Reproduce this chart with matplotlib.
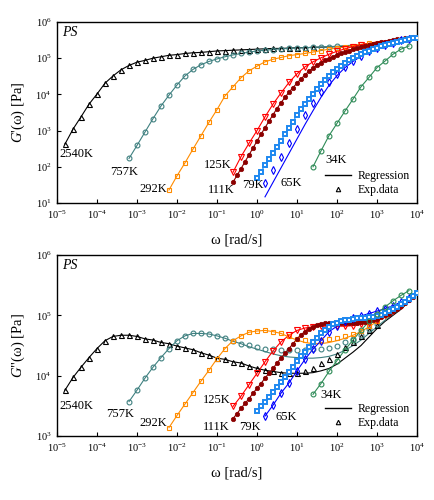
import numpy as np
import matplotlib
matplotlib.use("Agg")
import matplotlib.pyplot as plt
from matplotlib.lines import Line2D
from matplotlib.ticker import LogLocator, NullLocator

plt.rcParams['font.family'] = ['Liberation Serif', 'DejaVu Serif']
plt.rcParams['mathtext.fontset'] = 'custom'
plt.rcParams['mathtext.rm'] = 'Liberation Serif'
plt.rcParams['mathtext.it'] = 'Liberation Serif:italic'

# all values below are log10: omega in rad/s, G' and G'' in Pa

# 2540K
w2540t = [-4.8, -4.6, -4.4, -4.2, -4.0, -3.8, -3.6, -3.4, -3.2, -3.0, -2.8, -2.6, -2.4, -2.2, -2.0, -1.8,
          -1.6, -1.4, -1.2, -1.0, -0.8, -0.6, -0.4, -0.2, 0.0, 0.2, 0.4, 0.6, 0.8, 1.0, 1.2, 1.4]
gp2540 = [2.63, 3.04, 3.38, 3.73, 4.01, 4.31, 4.51, 4.68, 4.80, 4.89, 4.94, 5.00, 5.04, 5.08, 5.10, 5.13,
          5.15, 5.16, 5.18, 5.20, 5.21, 5.22, 5.23, 5.24, 5.25, 5.26, 5.27, 5.27, 5.28, 5.29, 5.29, 5.30]
w2540b = w2540t + [1.6, 1.8, 2.0, 2.2, 2.4, 2.6, 2.8, 3.0]
gpp2540 = [3.76, 3.97, 4.14, 4.30, 4.45, 4.58, 4.65, 4.67, 4.67, 4.65, 4.61, 4.59, 4.55, 4.53, 4.49, 4.46,
           4.43, 4.38, 4.34, 4.29, 4.27, 4.23, 4.21, 4.16, 4.12, 4.09, 4.07, 4.05, 4.04, 4.04, 4.08, 4.13,
           4.21, 4.28, 4.36, 4.48, 4.56, 4.66, 4.75, 4.84]
fit2540t_w = w2540t + [1.8, 2.2, 2.6, 3.0, 3.4, 3.7, 4.0]
fit2540t_g = gp2540 + [5.31, 5.33, 5.36, 5.40, 5.46, 5.51, 5.57]
fit2540b_w = w2540b[:30] + [1.2, 1.4, 1.6, 1.8, 2.0, 2.2, 2.4, 2.6, 2.8, 3.0, 3.2, 3.4, 3.6, 3.8, 4.0]
fit2540b_g = gpp2540[:30] + [4.04, 4.05, 4.08, 4.12, 4.19, 4.29, 4.39, 4.50, 4.64, 4.78, 4.90, 5.00, 5.10,
                             5.23, 5.38]

# 757K
w757t = [-3.2, -3.0, -2.8, -2.6, -2.4, -2.2, -2.0, -1.8, -1.6, -1.4, -1.2, -1.0, -0.8, -0.6, -0.4, -0.2,
         0.0, 0.2, 0.4, 0.6, 0.8, 1.0, 1.2, 1.4, 1.6, 1.8, 2.0]
gp757 = [2.23, 2.59, 2.96, 3.33, 3.68, 3.98, 4.26, 4.51, 4.69, 4.82, 4.91, 4.98, 5.04, 5.09, 5.13, 5.17,
         5.20, 5.22, 5.24, 5.26, 5.27, 5.28, 5.29, 5.30, 5.31, 5.32, 5.33]
w757b = w757t + [2.2, 2.4, 2.6, 2.8, 3.0]
gpp757 = [3.57, 3.76, 3.96, 4.14, 4.30, 4.45, 4.58, 4.66, 4.70, 4.70, 4.69, 4.66, 4.62, 4.57, 4.53, 4.51,
          4.48, 4.45, 4.44, 4.42, 4.42, 4.42, 4.43, 4.44, 4.44, 4.46, 4.50, 4.55, 4.61, 4.68, 4.77, 4.86]
fit757t_w = w757t + [2.4, 2.8, 3.2, 3.6, 4.0]
fit757t_g = gp757 + [5.36, 5.40, 5.45, 5.51, 5.57]
fit757b_w = w757b[:15] + [-0.2, 0.0, 0.2, 0.4, 0.6, 0.8, 1.0, 1.2, 1.4, 1.6, 1.8, 2.0, 2.2, 2.4, 2.6, 2.8,
                          3.0, 3.2, 3.4, 3.6, 3.8, 4.0]
fit757b_g = gpp757[:15] + [4.48, 4.44, 4.40, 4.36, 4.33, 4.31, 4.30, 4.29, 4.29, 4.30, 4.32, 4.36, 4.42,
                           4.50, 4.59, 4.70, 4.81, 4.92, 5.02, 5.12, 5.24, 5.37]

# 292K
w292t = [-2.2, -2.0, -1.8, -1.6, -1.4, -1.2, -1.0, -0.8, -0.6, -0.4, -0.2, 0.0, 0.2, 0.4, 0.6, 0.8, 1.0,
         1.2, 1.4, 1.6, 1.8, 2.0, 2.2, 2.4, 2.6, 2.8]
gp292 = [1.36, 1.75, 2.11, 2.49, 2.86, 3.23, 3.58, 3.96, 4.21, 4.46, 4.65, 4.78, 4.90, 4.97, 5.02, 5.07,
         5.10, 5.13, 5.17, 5.21, 5.25, 5.28, 5.31, 5.35, 5.38, 5.41]
w292b = w292t + [3.0, 3.2, 3.4]
gpp292 = [3.14, 3.34, 3.53, 3.72, 3.91, 4.09, 4.28, 4.45, 4.58, 4.66, 4.72, 4.74, 4.75, 4.73, 4.70, 4.66,
          4.61, 4.59, 4.58, 4.59, 4.60, 4.62, 4.65, 4.69, 4.74, 4.82, 4.91, 5.01, 5.09]
fit292t_w = w292t + [3.2, 3.6, 4.0]
fit292t_g = gp292 + [5.47, 5.52, 5.57]
fit292b_w = w292b[:15] + [0.8, 1.0, 1.2, 1.4, 1.6, 1.8, 2.0, 2.2, 2.4, 2.6, 2.8, 3.0, 3.2, 3.4, 3.6, 3.8, 4.0]
fit292b_g = gpp292[:15] + [4.64, 4.59, 4.55, 4.53, 4.53, 4.55, 4.58, 4.62, 4.67, 4.73, 4.81, 4.90, 4.99,
                           5.08, 5.16, 5.26, 5.37]

# 125K
w125t = [-0.6, -0.4, -0.2, 0.0, 0.2, 0.4, 0.6, 0.8, 1.0, 1.2, 1.4, 1.6, 1.8, 2.0, 2.2, 2.4, 2.6]
gp125 = [1.85, 2.28, 2.65, 3.00, 3.38, 3.73, 4.04, 4.33, 4.57, 4.76, 4.90, 5.01, 5.11, 5.19, 5.26, 5.32, 5.37]
w125b = w125t + [2.8, 3.0, 3.2, 3.4, 3.6]
gpp125 = [3.49, 3.66, 3.85, 4.04, 4.23, 4.41, 4.56, 4.67, 4.75, 4.79, 4.81, 4.82, 4.82, 4.82, 4.82, 4.83,
          4.85, 4.88, 4.93, 5.00, 5.08, 5.16]
fit125t_w = w125t + [3.0, 3.5, 4.0]
fit125t_g = gp125 + [5.45, 5.52, 5.57]
fit125b_w = w125b + [3.8, 4.0]
fit125b_g = gpp125 + [5.26, 5.37]

# 111K
w111 = [-0.6, -0.5, -0.4, -0.3, -0.2, -0.1, 0.0, 0.1, 0.2, 0.3, 0.4, 0.5, 0.6, 0.7, 0.8, 0.9, 1.0, 1.1,
        1.2, 1.3, 1.4, 1.5, 1.6, 1.7, 1.8, 1.9, 2.0, 2.1, 2.2, 2.3, 2.4, 2.5, 2.6, 2.7, 2.8, 2.9, 3.0, 3.1,
        3.2, 3.3, 3.4, 3.5, 3.6, 3.7, 3.8, 3.9]
gp111 = [1.58, 1.76, 1.95, 2.14, 2.33, 2.52, 2.71, 2.90, 3.08, 3.26, 3.44, 3.61, 3.77, 3.92, 4.06, 4.19,
         4.31, 4.43, 4.54, 4.64, 4.73, 4.81, 4.88, 4.94, 4.99, 5.04, 5.09, 5.13, 5.17, 5.21, 5.25, 5.28,
         5.31, 5.34, 5.37, 5.40, 5.42, 5.44, 5.46, 5.48, 5.50, 5.52, 5.53, 5.55, 5.56, 5.58]
gpp111 = [3.29, 3.37, 3.46, 3.54, 3.62, 3.71, 3.79, 3.87, 3.96, 4.04, 4.12, 4.21, 4.29, 4.37, 4.45, 4.53,
          4.61, 4.68, 4.73, 4.77, 4.81, 4.84, 4.86, 4.87, 4.88, 4.88, 4.88, 4.88, 4.88, 4.88, 4.88, 4.88,
          4.89, 4.89, 4.90, 4.92, 4.94, 4.97, 5.00, 5.03, 5.07, 5.11, 5.15, 5.20, 5.25, 5.30]

# 79K
w79 = [0.0, 0.1, 0.2, 0.3, 0.4, 0.5, 0.6, 0.7, 0.8, 0.9, 1.0, 1.1, 1.2, 1.3, 1.4, 1.5, 1.6, 1.7, 1.8, 1.9,
       2.0, 2.1, 2.2, 2.3, 2.4, 2.5, 2.6, 2.7, 2.8, 2.9, 3.0, 3.1, 3.2, 3.3, 3.4, 3.5, 3.6, 3.7, 3.8, 3.9, 4.0]
gp79 = [1.68, 1.87, 2.04, 2.21, 2.38, 2.55, 2.72, 2.90, 3.07, 3.25, 3.43, 3.59, 3.74, 3.88, 4.02, 4.15,
        4.28, 4.40, 4.51, 4.62, 4.71, 4.79, 4.87, 4.94, 5.00, 5.06, 5.11, 5.16, 5.21, 5.25, 5.29, 5.33,
        5.37, 5.40, 5.43, 5.46, 5.48, 5.51, 5.53, 5.55, 5.57]
gpp79 = [3.41, 3.49, 3.57, 3.65, 3.73, 3.81, 3.89, 3.97, 4.06, 4.15, 4.24, 4.32, 4.40, 4.48, 4.56, 4.63,
         4.70, 4.76, 4.81, 4.85, 4.88, 4.90, 4.92, 4.93, 4.94, 4.95, 4.95, 4.96, 4.97, 4.98, 4.99, 5.01,
         5.04, 5.07, 5.10, 5.13, 5.18, 5.22, 5.27, 5.32, 5.37]

# 65K
w65 = [0.2, 0.4, 0.6, 0.8, 1.0, 1.2, 1.4, 1.6, 1.8, 2.0, 2.2, 2.4, 2.6, 2.8, 3.0, 3.2, 3.4, 3.6, 3.8]
gp65 = [1.54, 1.91, 2.28, 2.65, 3.04, 3.43, 3.75, 4.06, 4.35, 4.55, 4.76, 4.93, 5.07, 5.19, 5.29, 5.37,
        5.43, 5.49, 5.54]
gpp65 = [3.33, 3.51, 3.71, 3.88, 4.08, 4.27, 4.44, 4.58, 4.73, 4.82, 4.90, 4.95, 4.99, 5.03, 5.07, 5.11,
         5.16, 5.22, 5.28]
fit65t_w = w65 + [4.0]
fit65t_g = [1.17, 1.57, 1.97, 2.37, 2.77, 3.17, 3.55, 3.92, 4.25, 4.52, 4.74, 4.91, 5.05, 5.17, 5.27, 5.35,
            5.42, 5.48, 5.53, 5.57]
fit65b_w = w65 + [4.0]
fit65b_g = gpp65 + [5.37]

# 34K
w34 = [1.4, 1.6, 1.8, 2.0, 2.2, 2.4, 2.6, 2.8, 3.0, 3.2, 3.4, 3.6, 3.8]
gp34 = [2.00, 2.44, 2.86, 3.20, 3.54, 3.87, 4.21, 4.47, 4.74, 4.92, 5.11, 5.25, 5.34]
gpp34 = [3.69, 3.87, 4.07, 4.25, 4.43, 4.59, 4.75, 4.90, 5.03, 5.14, 5.24, 5.33, 5.41]

# label anchors (log10 omega, log10 modulus)
names = ["2540K", "757K", "292K", "125K", "111K", "79K", "65K", "34K"]
lab_w_top = [-4.93, -3.68, -2.93, -1.33, -1.23, -0.38, 0.58, 1.70]
lab_g_top = [2.35, 1.86, 1.39, 2.05, 1.36, 1.50, 1.55, 2.19]
lab_w_bot = [-4.93, -3.78, -2.93, -1.35, -1.35, -0.45, 0.45, 1.58]
lab_g_bot = [3.50, 3.36, 3.22, 3.60, 3.15, 3.15, 3.32, 3.68]


def series(ax, w, g, wf, gf, color, **mk):
    ax.plot(10**np.array(wf), 10**np.array(gf), color=color, lw=0.8, zorder=2)
    ax.plot(10**np.array(w), 10**np.array(g), ls='none', mec=color, zorder=3, **mk)


fig = plt.figure(figsize=(4.34, 5.0), dpi=100)
ax1 = fig.add_axes([57/434, 1-203/500, 360/434, 181/500])
ax2 = fig.add_axes([57/434, 1-436/500, 360/434, 181/500])

teal = '#3f8080'
orange = '#ff8c00'
red = '#ff0000'
dred = '#8b0000'
dblue = '#1e88f0'
blue = '#0000ff'
green = '#2e8b57'

open_ = dict(mfc='none', mew=0.8)

# G'
series(ax1, w2540t, gp2540, fit2540t_w, fit2540t_g, 'k', marker='^', ms=3.6, **open_)
series(ax1, w757t, gp757, fit757t_w, fit757t_g, teal, marker='o', ms=3.5, **open_)
series(ax1, w292t, gp292, fit292t_w, fit292t_g, orange, marker='s', ms=3.5, **open_)
series(ax1, w125t, gp125, fit125t_w, fit125t_g, red, marker='v', ms=4, **open_)
series(ax1, w111, gp111, w111, gp111, dred, marker='o', ms=3.2, mfc=dred, mew=0.5)
series(ax1, w65, gp65, fit65t_w, fit65t_g, blue, marker='d', ms=4, **open_)
series(ax1, w79, gp79, w79, gp79, dblue, marker='s', ms=3.2, mfc='white', mew=1.4)
series(ax1, w34, gp34, w34, gp34, green, marker='o', ms=3.5, **open_)

# G''
series(ax2, w2540b, gpp2540, fit2540b_w, fit2540b_g, 'k', marker='^', ms=3.6, **open_)
series(ax2, w757b, gpp757, fit757b_w, fit757b_g, teal, marker='o', ms=3.5, **open_)
series(ax2, w292b, gpp292, fit292b_w, fit292b_g, orange, marker='s', ms=3.5, **open_)
series(ax2, w125b, gpp125, fit125b_w, fit125b_g, red, marker='v', ms=4, **open_)
series(ax2, w111, gpp111, w111, gpp111, dred, marker='o', ms=3.2, mfc=dred, mew=0.5)
series(ax2, w65, gpp65, fit65b_w, fit65b_g, blue, marker='d', ms=4, **open_)
series(ax2, w79, gpp79, w79, gpp79, dblue, marker='s', ms=3.2, mfc='white', mew=1.4)
series(ax2, w34, gpp34, w34, gpp34, green, marker='o', ms=3.5, **open_)

for ax, ylo, lw_, lg_, ylab in [(ax1, 1e1, lab_w_top, lab_g_top, "$G$'(ω) [Pa]"),
                                (ax2, 1e3, lab_w_bot, lab_g_bot, '$G$"(ω) [Pa]')]:
    ax.set_xscale('log')
    ax.set_yscale('log')
    ax.set_xlim(1e-5, 1e4)
    ax.set_ylim(ylo, 1e6)
    ax.xaxis.set_major_locator(LogLocator(base=10, numticks=20))
    ax.yaxis.set_major_locator(LogLocator(base=10, numticks=20))
    ax.xaxis.set_minor_locator(NullLocator())
    ax.yaxis.set_minor_locator(NullLocator())
    ax.tick_params(direction='in', length=3, width=0.8, labelsize=7.5, pad=4)
    for s in ax.spines.values():
        s.set_linewidth(1.0)
    ax.set_xlabel("ω [rad/s]", fontsize=10.5, labelpad=9)
    ax.set_ylabel(ylab, fontsize=10.5, labelpad=6)
    ax.text(0.015, 0.94, "PS", style='italic', fontsize=10, transform=ax.transAxes, va='center')
    for n, a, b in zip(names, lw_, lg_):
        ax.text(10**a, 10**b, n, fontsize=9, ha='left', va='center')
    handles = [Line2D([], [], color='k', lw=1.0),
               Line2D([], [], ls='none', marker='^', ms=3.2, mfc='none', mec='k', mew=0.8)]
    ax.legend(handles, ["Regression", "Exp.data"], loc='lower right', frameon=False, fontsize=8.5,
              handlelength=2.2, handletextpad=0.6, labelspacing=0.15, borderaxespad=0.2)

fig.savefig("out.png", dpi=100)
